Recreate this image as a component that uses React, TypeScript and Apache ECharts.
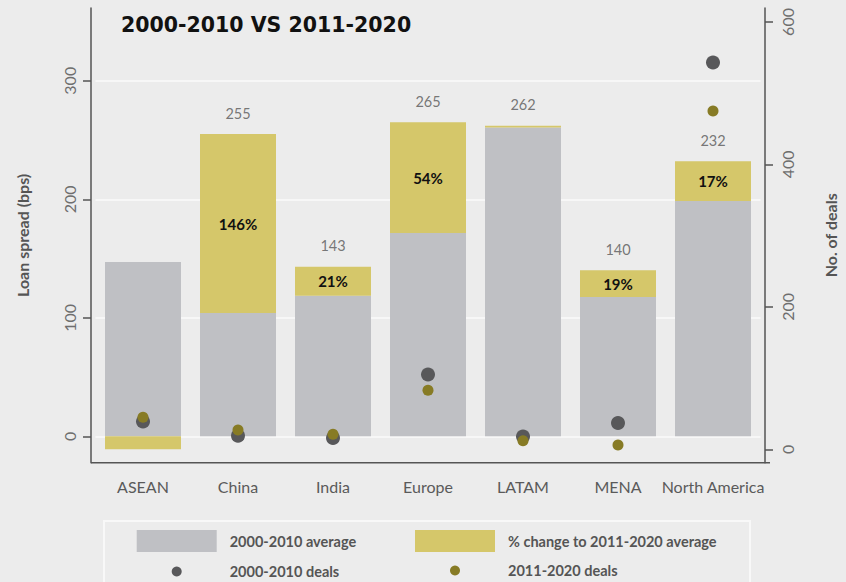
import React, { useEffect, useRef } from "react";
import * as echarts from "echarts";

const categories = ["ASEAN", "China", "India", "Europe", "LATAM", "MENA", "North America"];
const avg2000 = [147, 104, 118.5, 171.5, 260.5, 117.5, 198.5];
const avg2011 = [136, 255, 143, 265, 262, 140, 232];
const pctChangeLabels = ["", "146%", "21%", "54%", "", "19%", "17%"];
const totalLabels = ["", "255", "143", "265", "262", "140", "232"];
const deals2000 = [39, 19, 16, 105, 18, 37, 543];
const deals2011 = [45, 27, 21, 83, 12, 6, 475];
const leftTicks = [0, 100, 200, 300];
const rightTicks = [0, 200, 400, 600];

const FONT = "Lato, 'Open Sans', sans-serif";
const AXIS_COLOR = "#555555";

export default function App() {
  const ref = useRef<HTMLDivElement>(null);
  useEffect(() => {
    if (!ref.current) return;
    const chart = echarts.init(ref.current, undefined, { renderer: "svg" });
    const change = avg2011.map((v, i) => +(v - avg2000[i]).toFixed(1));
    const gridLeft = 95.5;
    const gridRight = 80.5;
    const gridTop = 8;
    const gridBottom = 119.3;
    const axisOffset = 4.5;
    const W = 846, H = 582;
    const baseY = H - gridBottom;
    const legendText = { fontSize: 14.5, fontWeight: "bold", color: "#555", fontFamily: FONT };

    chart.setOption({
      animation: false,
      backgroundColor: "#ececec",
      textStyle: { fontFamily: FONT },
      grid: { left: gridLeft, right: gridRight, top: gridTop, bottom: gridBottom, containLabel: false },
      xAxis: {
        type: "category",
        data: categories,
        axisLine: { show: false },
        axisTick: { show: false },
        axisLabel: { interval: 0, hideOverlap: false, fontSize: 16, color: "#5a5a5a", margin: 16, fontFamily: FONT },
        splitLine: { show: false },
      },
      yAxis: [
        {
          type: "value",
          position: "left",
          min: -22.3,
          max: 361.4,
          offset: axisOffset,
          axisLine: { show: true, lineStyle: { color: AXIS_COLOR, width: 1.5 } },
          axisTick: { show: true, length: 8, customValues: leftTicks, lineStyle: { color: AXIS_COLOR, width: 1.5 } },
          axisLabel: { customValues: leftTicks, rotate: 90, margin: 14, fontSize: 16, color: "#6e6e6e", fontFamily: FONT },
          splitLine: { show: true, lineStyle: { color: "#fbfbfb", width: 1.5 } },
          name: "Loan spread (bps)",
          nameLocation: "middle",
          nameRotate: 90,
          nameGap: 61,
          nameTextStyle: { fontSize: 16, fontWeight: "bold", color: "#555", fontFamily: FONT },
        },
        {
          type: "value",
          position: "right",
          min: -18.8,
          max: 619.6,
          offset: axisOffset,
          axisLine: { show: true, lineStyle: { color: AXIS_COLOR, width: 1.5 } },
          axisTick: { show: true, length: 8, customValues: rightTicks, lineStyle: { color: AXIS_COLOR, width: 1.5 } },
          axisLabel: { customValues: rightTicks, rotate: 90, margin: 14, fontSize: 16, color: "#6e6e6e", fontFamily: FONT },
          splitLine: { show: false },
          name: "No. of deals",
          nameLocation: "middle",
          nameRotate: 90,
          nameGap: 57,
          nameTextStyle: { fontSize: 16, fontWeight: "bold", color: "#555", fontFamily: FONT },
        },
      ],
      legend: [
        {
          data: [{ name: "2000-2010 average", icon: "rect" }],
          left: 136.7, top: 530, padding: 0, itemWidth: 80, itemHeight: 22, selectedMode: false,
          textStyle: { ...legendText, padding: [0, 0, 0, 8] },
        },
        {
          data: [{ name: "% change to 2011-2020 average", icon: "rect" }],
          left: 415, top: 530, padding: 0, itemWidth: 80, itemHeight: 22, selectedMode: false,
          textStyle: { ...legendText, padding: [0, 0, 0, 8] },
        },
        {
          data: [{ name: "2000-2010 deals", icon: "circle" }],
          left: 171.7, top: 564, padding: 0, itemWidth: 10, itemHeight: 10, selectedMode: false,
          textStyle: { ...legendText, padding: [0, 0, 0, 43] },
        },
        {
          data: [{ name: "2011-2020 deals", icon: "circle" }],
          left: 450, top: 563, padding: 0, itemWidth: 10, itemHeight: 10, selectedMode: false,
          textStyle: { ...legendText, padding: [0, 0, 0, 43] },
        },
      ],
      graphic: [
        {
          type: "text",
          left: 121,
          top: 14,
          style: {
            text: "2000-2010 VS 2011-2020",
            fontFamily: "'DejaVu Sans', sans-serif",
            fontWeight: "bold",
            fontSize: 20.5,
            fill: "#111111",
          },
        },
        {
          type: "line",
          shape: { x1: gridLeft - axisOffset, y1: baseY, x2: W - gridRight + axisOffset, y2: baseY },
          style: { stroke: AXIS_COLOR, lineWidth: 1.5 },
          z: 10,
        },
        {
          type: "rect",
          shape: { x: 104, y: 521, width: 646, height: 100 },
          style: { fill: "none", stroke: "#f8f8f8", lineWidth: 2 },
        },
      ],
      series: [
        {
          name: "2000-2010 average",
          type: "bar",
          stack: "avg",
          yAxisIndex: 0,
          barCategoryGap: "20%",
          data: avg2000,
          itemStyle: { color: "#bfc0c4" },
        },
        {
          name: "% change to 2011-2020 average",
          type: "bar",
          stack: "avg",
          yAxisIndex: 0,
          barCategoryGap: "20%",
          data: change,
          itemStyle: { color: "#d5c76a" },
          label: {
            show: true,
            position: "inside",
            formatter: (p: any) => pctChangeLabels[p.dataIndex],
            fontSize: 15,
            fontWeight: "bold",
            color: "#111",
            fontFamily: FONT,
          },
        },
        {
          name: "total",
          type: "scatter",
          yAxisIndex: 0,
          symbolSize: 1,
          itemStyle: { color: "rgba(0,0,0,0)" },
          data: avg2011.map((v, i) => (totalLabels[i] ? v : "-")),
          label: {
            show: true,
            position: "top",
            distance: 13,
            formatter: (p: any) => totalLabels[p.dataIndex],
            fontSize: 14.5,
            color: "#575757",
            fontFamily: FONT,
          },
          z: 5,
        },
        {
          name: "2000-2010 deals",
          type: "scatter",
          yAxisIndex: 1,
          symbol: "circle",
          symbolSize: 14,
          data: deals2000,
          itemStyle: { color: "#58585a", opacity: 1 },
          z: 6,
        },
        {
          name: "2011-2020 deals",
          type: "scatter",
          yAxisIndex: 1,
          symbol: "circle",
          symbolSize: 11,
          data: deals2011,
          itemStyle: { color: "#877b25", opacity: 1 },
          z: 7,
        },
      ],
    });
    return () => chart.dispose();
  }, []);
  return <div ref={ref} style={{ position: "absolute", left: 0, top: 0, width: 846, height: 582 }} />;
}
